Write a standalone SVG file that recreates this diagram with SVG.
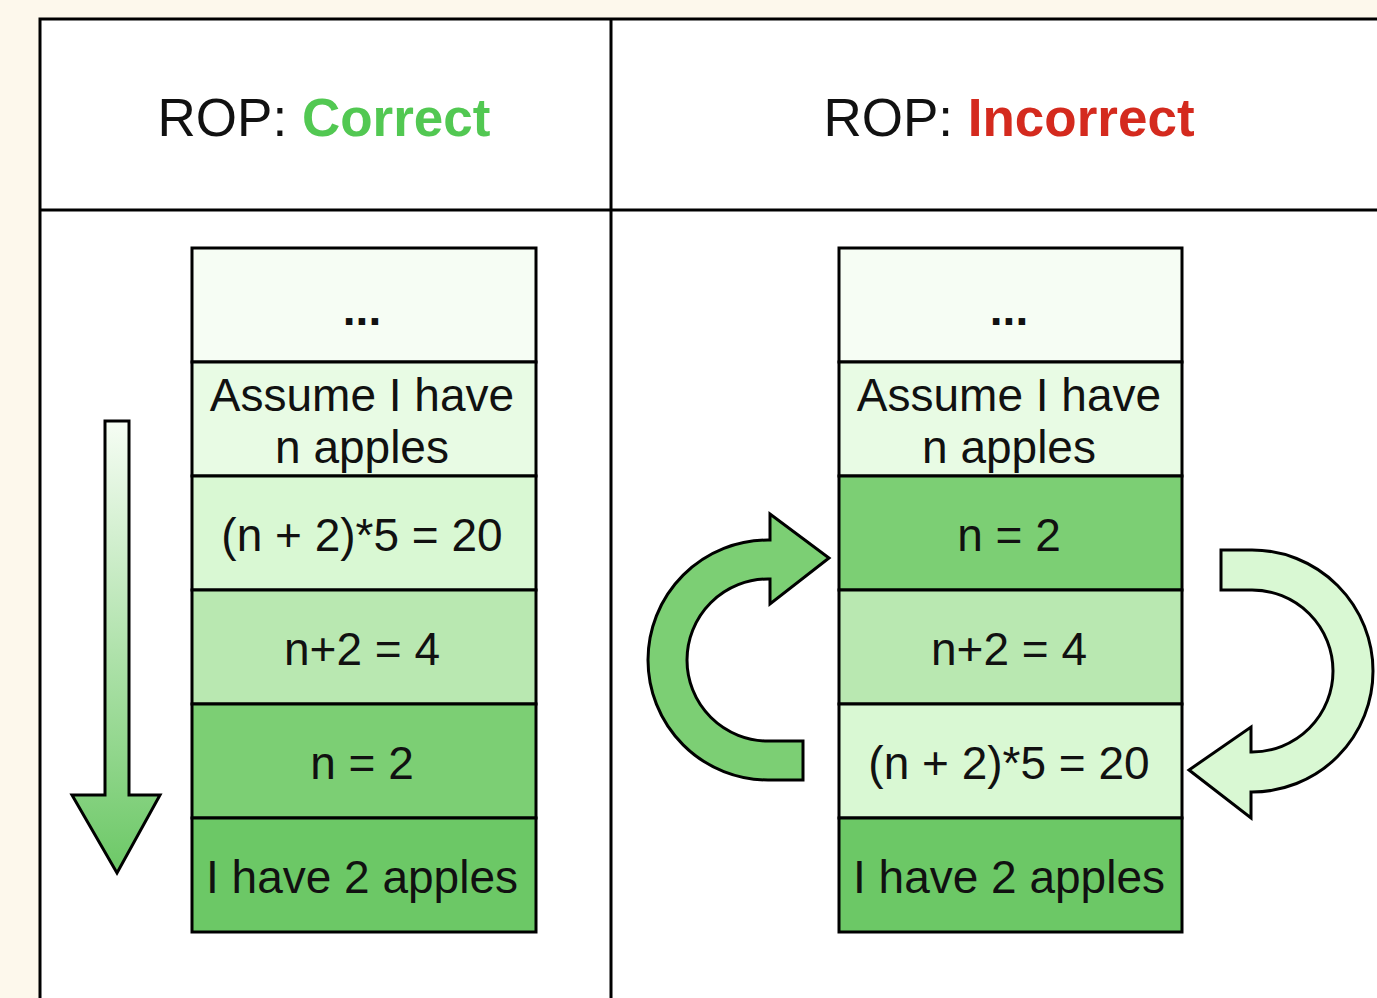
<svg xmlns="http://www.w3.org/2000/svg" width="1377" height="998" viewBox="0 0 1377 998">
<style>
.cell{stroke:#000;stroke-width:3}
.t{font-family:"Liberation Sans",Arial,sans-serif;font-size:46px;fill:#111;text-anchor:middle}
.h{font-family:"Liberation Sans",Arial,sans-serif;font-size:53px;fill:#111;text-anchor:middle}
.arr{stroke:#000;stroke-width:3;stroke-linejoin:miter}
.c0{fill:#f6fdf4}.c1{fill:#e8fbe4}.c2{fill:#d9f8d3}.c3{fill:#b9e8b1}.c4{fill:#7ccf74}.c5{fill:#6cc866}
</style>
<defs>
<linearGradient id="g" x1="0" y1="0" x2="0" y2="1">
<stop offset="0" stop-color="#f6fdf4"/>
<stop offset="1" stop-color="#6cc866"/>
</linearGradient>
</defs>
<rect width="1377" height="998" fill="#fdf8ec"/>
<g id="table">
<rect x="40" y="19" width="1400" height="1000" fill="#fff" stroke="#000" stroke-width="3"/>
<line x1="40" y1="210" x2="1377" y2="210" stroke="#000" stroke-width="3"/>
<line x1="611" y1="19" x2="611" y2="998" stroke="#000" stroke-width="3"/>
</g>
<g id="header-left"><text class="h" x="324" y="136">ROP: <tspan font-weight="bold" fill="#52c852">Correct</tspan></text></g>
<g id="header-right"><text class="h" x="1009" y="136">ROP: <tspan font-weight="bold" fill="#d42a1e">Incorrect</tspan></text></g>

<g id="left-stack">
<g id="l1"><rect class="cell c0" x="192" y="248" width="344" height="114"/><text class="t" x="362" y="325" font-weight="bold">...</text></g>
<g id="l2"><rect class="cell c1" x="192" y="362" width="344" height="114"/><text class="t" x="362" y="411">Assume I have</text><text class="t" x="362" y="463">n apples</text></g>
<g id="l3"><rect class="cell c2" x="192" y="476" width="344" height="114"/><text class="t" x="362" y="551">(n + 2)*5 = 20</text></g>
<g id="l4"><rect class="cell c3" x="192" y="590" width="344" height="114"/><text class="t" x="362" y="665">n+2 = 4</text></g>
<g id="l5"><rect class="cell c4" x="192" y="704" width="344" height="114"/><text class="t" x="362" y="779">n = 2</text></g>
<g id="l6"><rect class="cell c5" x="192" y="818" width="344" height="114"/><text class="t" x="362" y="893">I have 2 apples</text></g>
</g>

<g id="right-stack">
<g id="r1"><rect class="cell c0" x="839" y="248" width="343" height="114"/><text class="t" x="1009" y="325" font-weight="bold">...</text></g>
<g id="r2"><rect class="cell c1" x="839" y="362" width="343" height="114"/><text class="t" x="1009" y="411">Assume I have</text><text class="t" x="1009" y="463">n apples</text></g>
<g id="r3"><rect class="cell c4" x="839" y="476" width="343" height="114"/><text class="t" x="1009" y="551">n = 2</text></g>
<g id="r4"><rect class="cell c3" x="839" y="590" width="343" height="114"/><text class="t" x="1009" y="665">n+2 = 4</text></g>
<g id="r5"><rect class="cell c2" x="839" y="704" width="343" height="114"/><text class="t" x="1009" y="779">(n + 2)*5 = 20</text></g>
<g id="r6"><rect class="cell c5" x="839" y="818" width="343" height="114"/><text class="t" x="1009" y="893">I have 2 apples</text></g>
</g>

<g id="connectors">
<path id="down-arrow" class="arr" fill="url(#g)" d="M105 421 L129 421 L129 795 L160 795 L117 873 L72 795 L105 795 Z"/>
<path id="curve-left" class="arr" fill="#7ccf74" d="M803 780 L768 780 A120 120 0 0 1 768 540 L770 540 L770 514 L829 558 L770 604 L770 579 L768 579 A81 81 0 0 0 768 741 L803 741 Z"/>
<path id="curve-right" class="arr" fill="#d9f8d3" d="M1221 550 L1252 550 A121 121 0 0 1 1252 792 L1251 792 L1251 818 L1189 770 L1251 727 L1251 752 L1252 752 A81 81 0 0 0 1252 590 L1221 590 Z"/>
</g>
</svg>
